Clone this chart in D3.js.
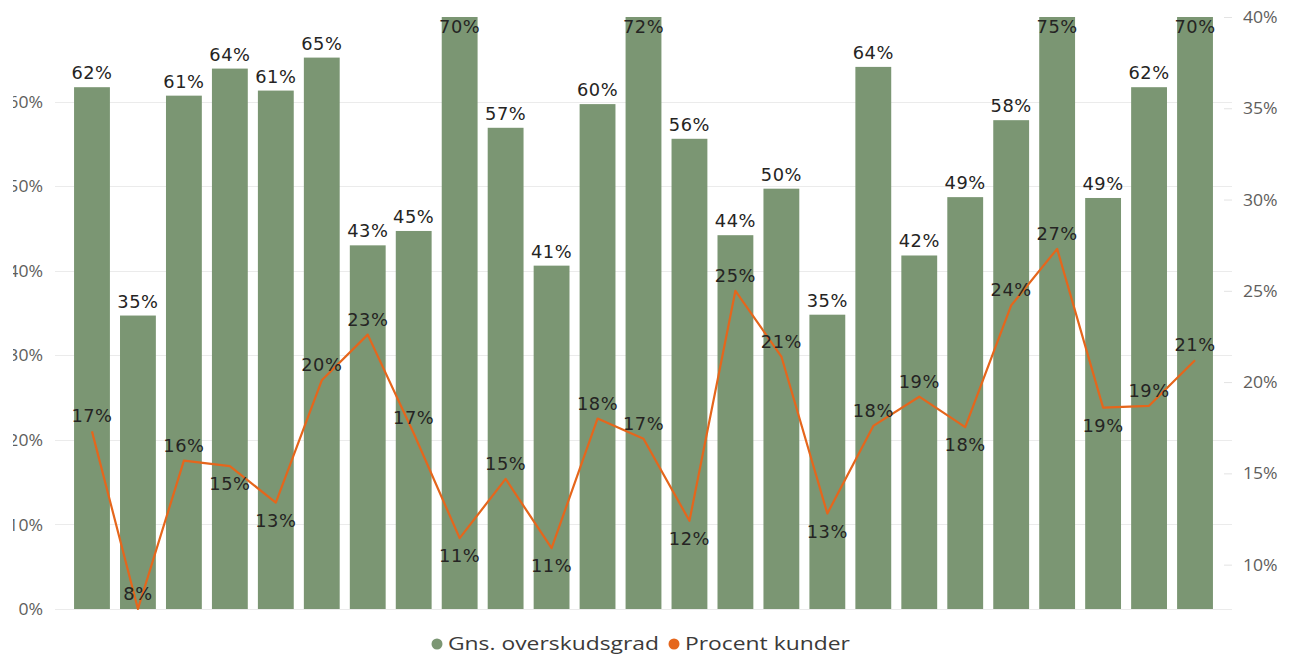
<!DOCTYPE html>
<html>
<head>
<meta charset="utf-8">
<script src="https://cdn.jsdelivr.net/npm/d3@7"></script>
<style>
  html, body { margin: 0; padding: 0; background: #fff; }
  svg { display: block; }
</style>
</head>
<body>
<svg id="chart" width="1293" height="659"></svg>
<script>
// ---- data ----
const categories = ["1","2","3","4","5","6","7","8","9","10","11","12","13","14","15","16","17","18","19","20","21","22","23","24","25"];
const overskudsgrad = [0.617,0.347,0.607,0.639,0.613,0.652,0.430,0.447,0.704,0.569,0.406,0.597,0.720,0.556,0.442,0.497,0.348,0.641,0.418,0.487,0.578,0.750,0.486,0.617,0.703];
const procentKunder = [0.173,0.0757,0.157,0.154,0.134,0.201,0.226,0.172,0.1145,0.147,0.109,0.180,0.169,0.124,0.250,0.214,0.128,0.176,0.192,0.1753,0.242,0.273,0.186,0.187,0.212];
const leftTicks = [0,0.1,0.2,0.3,0.4,0.5,0.6];
const rightTicks = [0.10,0.15,0.20,0.25,0.30,0.35,0.40];
const seriesNames = ["Gns. overskudsgrad","Procent kunder"];
// label placement for the line labels (true = below the point)
const lineLabelBelow = [false,false,false,true,true,false,false,false,true,false,true,false,false,true,false,false,true,false,false,true,false,false,true,false,false];

// ---- styles ----
const barColor = "#7B9673";
const lineColor = "#E5661C";
const gridColor = "#EBEBEB";
const axisText = "#605E5C";
const labelColor = "#252423";
const labelFont = "'DejaVu Sans Condensed','DejaVu Sans',sans-serif";
const uiFont = "'Open Sans','Noto Sans',sans-serif";

const svg = d3.select("#chart");
const plotTop = 17, plotBottom = 609;

const x = d3.scaleBand().domain(categories).range([69, 1218]).paddingInner(0.22).paddingOuter(0.11);
const yL = d3.scaleLinear().domain([0, 0.70]).range([plotBottom, plotTop]).clamp(true);
const yR = d3.scaleLinear().domain([0.0757, 0.40]).range([plotBottom, plotTop]);
const pct = d3.format(".0%");

const data = categories.map((c,i)=>({c, bar: overskudsgrad[i], line: procentKunder[i], below: lineLabelBelow[i]}));

function stretchText(sel, sx) {
  sel.attr("transform", d => `translate(${d._x},${d._y}) scale(${sx},1)`);
}

// gridlines
svg.append("g").selectAll("line").data(leftTicks).join("line")
  .attr("x1", 55).attr("x2", 1232)
  .attr("y1", d => Math.round(yL(d)) + 0.5).attr("y2", d => Math.round(yL(d)) + 0.5)
  .attr("stroke", gridColor).attr("stroke-width", 1);

// left axis labels (clipped on the left as in the reference)
svg.append("defs").append("clipPath").attr("id","leftclip")
  .append("rect").attr("x", 13).attr("y", 0).attr("width", 60).attr("height", 659);
const leftAxis = d3.axisLeft(yL).tickValues(leftTicks).tickFormat(pct).tickSize(0).tickPadding(0);
const gl = svg.append("g").attr("clip-path","url(#leftclip)")
  .append("g").attr("transform","translate(43,0)").call(leftAxis);
gl.select(".domain").remove();
gl.selectAll("text").attr("font-family", uiFont).attr("font-size", 16).attr("fill", axisText)
  .attr("dy", "0.35em").attr("x", 0)
  .attr("transform", "scale(1.1,1)");

// right axis
const rightAxis = d3.axisRight(yR).tickValues(rightTicks).tickFormat(pct).tickSize(8).tickPadding(11);
const gr = svg.append("g").attr("transform","translate(1224,0)").call(rightAxis);
gr.select(".domain").remove();
gr.selectAll(".tick line").attr("stroke", "#E3E3E3");
gr.selectAll("text").attr("font-family", uiFont).attr("font-size", 16).attr("fill", axisText)
  .attr("dy","0.35em").attr("transform","scale(1.1,1)").attr("x", 19/1.1);

// bars
svg.append("g").selectAll("rect").data(data).join("rect")
  .attr("x", d => x(d.c)).attr("width", x.bandwidth())
  .attr("y", d => yL(d.bar)).attr("height", d => plotBottom - yL(d.bar))
  .attr("fill", barColor);

// bar labels
const barLabelH = 13, barGap = 8;
svg.append("g").selectAll("text").data(data).join("text")
  .each(d => {
    d._x = x(d.c) + x.bandwidth()/2;
    const yt = yL(d.bar);
    d._y = (yt - barGap - barLabelH < 2) ? yt + 16 : yt - barGap;
  })
  .call(stretchText, 1.1)
  .attr("text-anchor","middle")
  .attr("font-family", labelFont).attr("font-stretch","condensed").attr("font-size", 18)
  .attr("letter-spacing", 0.5)
  .attr("fill", labelColor)
  .text(d => pct(d.bar));

// line
const line = d3.line().x(d => x(d.c) + x.bandwidth()/2).y(d => yR(d.line));
svg.append("path").datum(data).attr("d", line)
  .attr("fill","none").attr("stroke", lineColor).attr("stroke-width", 2.2)
  .attr("stroke-linejoin","round");

// line labels
svg.append("g").selectAll("text").data(data).join("text")
  .each(d => {
    d._x = x(d.c) + x.bandwidth()/2;
    const yp = yR(d.line);
    d._y = d.below ? yp + 24 : yp - 9;
  })
  .call(stretchText, 1.1)
  .attr("text-anchor","middle")
  .attr("font-family", labelFont).attr("font-stretch","condensed").attr("font-size", 18)
  .attr("letter-spacing", 0.5)
  .attr("fill", labelColor)
  .text(d => pct(d.line));

// legend
const legendColors = [barColor, lineColor];
const legendX = [437, 674];
const lg = svg.append("g");
seriesNames.forEach((n,i) => {
  lg.append("circle").attr("cx", legendX[i]).attr("cy", 644).attr("r", 5.5).attr("fill", legendColors[i]);
  lg.append("text").attr("transform", `translate(${legendX[i]+11},650) scale(1.27,1)`)
    .attr("font-family", uiFont).attr("font-size", 18).attr("fill", "#3B3A39").text(n);
});
</script>
</body>
</html>
